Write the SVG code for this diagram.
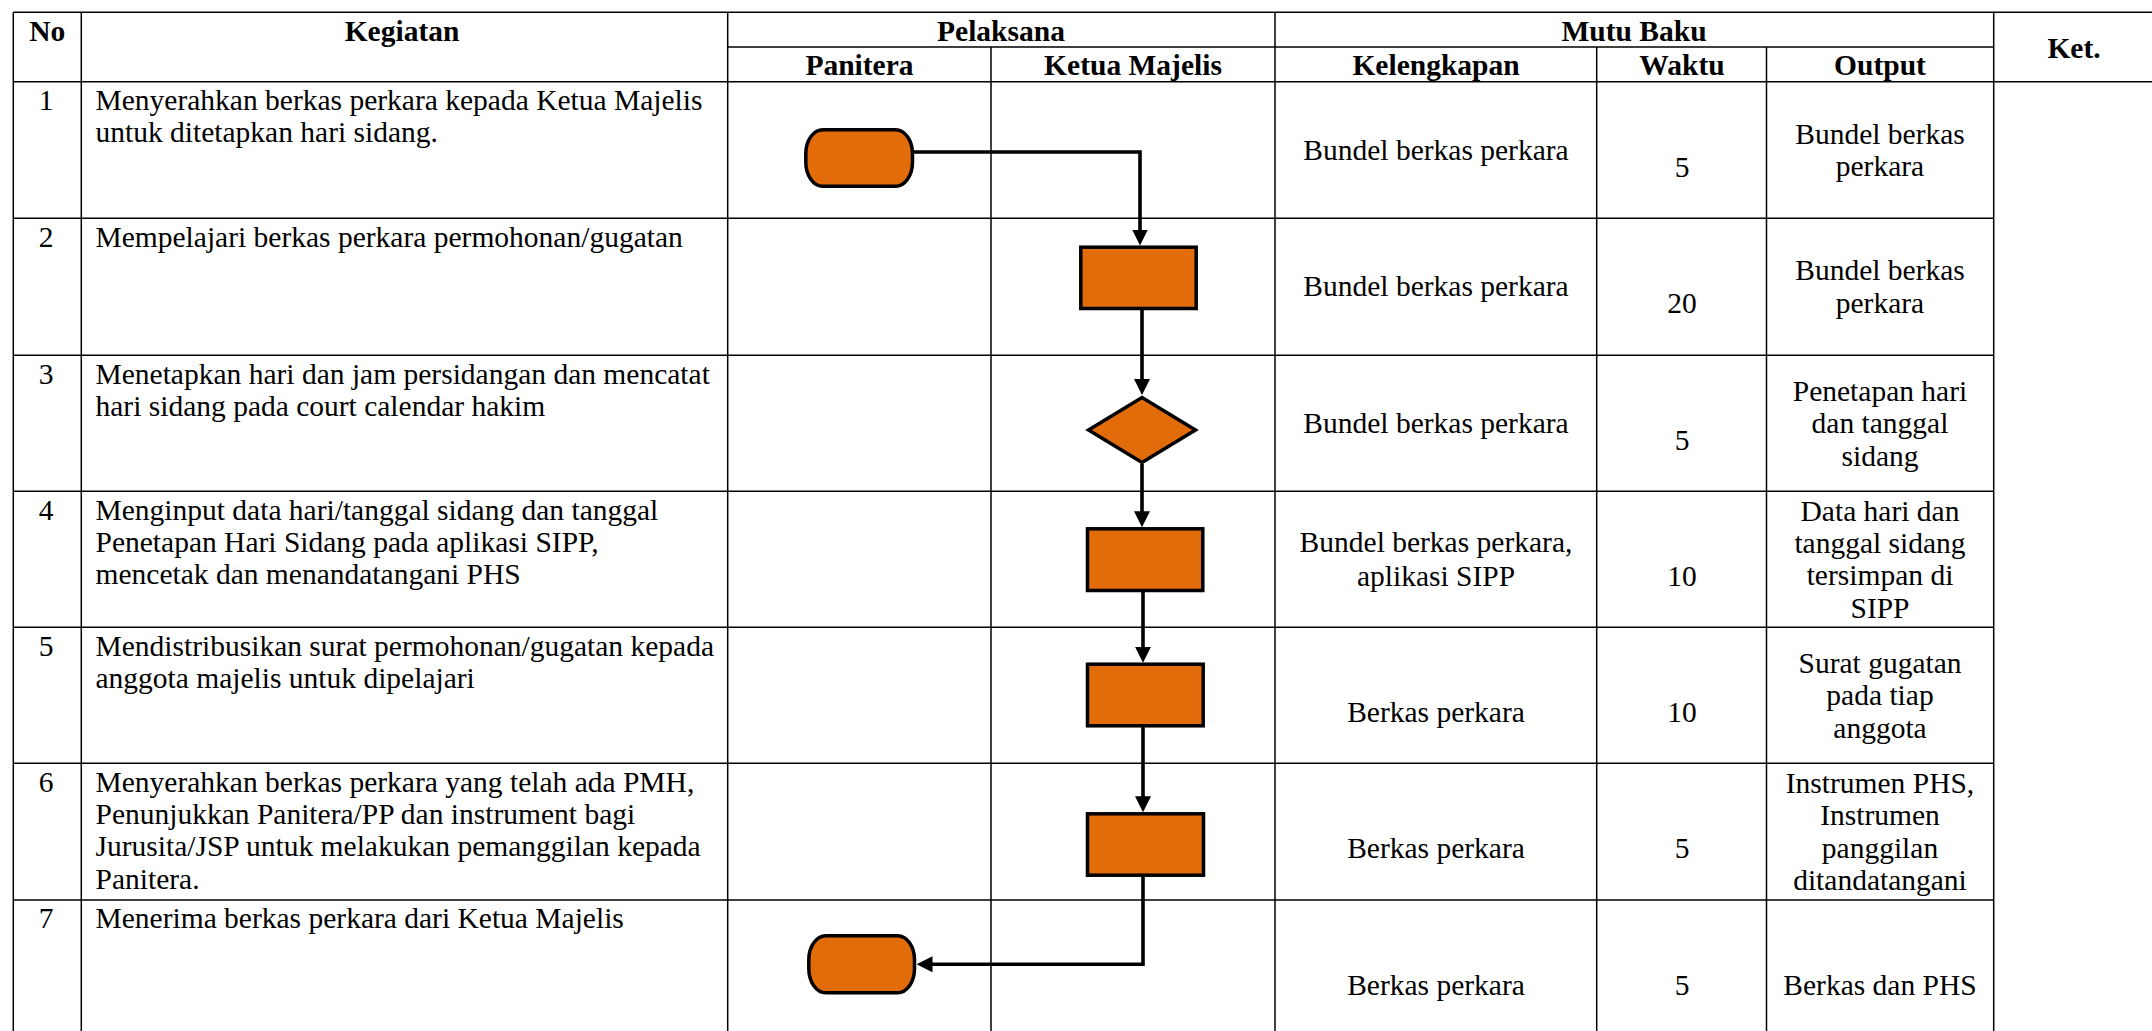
<svg xmlns="http://www.w3.org/2000/svg" width="2152" height="1031" viewBox="0 0 2152 1031">
<style>
.grid line{stroke:#000;stroke-width:1.5}
text{font-family:"Liberation Serif","Times New Roman",serif;font-size:29.5px;fill:#000}
.hb{font-weight:bold;text-anchor:middle}
.c{text-anchor:middle}
.shape{fill:#E36C0A;stroke:#000;stroke-width:3.5}
.conn{fill:none;stroke:#000;stroke-width:3.6}
</style>
<defs>
<marker id="arr" viewBox="0 0 16 16" refX="10" refY="8" markerWidth="16" markerHeight="16" markerUnits="userSpaceOnUse" orient="auto">
<path d="M0,0 L16,8 L0,16 z" fill="#000"/>
</marker>
</defs>
<rect width="2152" height="1031" fill="#fff"/>
<g id="table" class="grid">
<line x1="13.3" y1="12.3" x2="2152" y2="12.3"/>
<line x1="727.7" y1="47" x2="1993.7" y2="47"/>
<line x1="13.3" y1="81.7" x2="2152" y2="81.7"/>
<line x1="13.3" y1="218.3" x2="1993.7" y2="218.3"/>
<line x1="13.3" y1="355.3" x2="1993.7" y2="355.3"/>
<line x1="13.3" y1="491.3" x2="1993.7" y2="491.3"/>
<line x1="13.3" y1="627.3" x2="1993.7" y2="627.3"/>
<line x1="13.3" y1="763.3" x2="1993.7" y2="763.3"/>
<line x1="13.3" y1="900" x2="1993.7" y2="900"/>
<line x1="13.3" y1="12.3" x2="13.3" y2="1031"/>
<line x1="81.3" y1="12.3" x2="81.3" y2="1031"/>
<line x1="727.7" y1="12.3" x2="727.7" y2="1031"/>
<line x1="991" y1="47" x2="991" y2="1031"/>
<line x1="1275" y1="12.3" x2="1275" y2="1031"/>
<line x1="1596.7" y1="47" x2="1596.7" y2="1031"/>
<line x1="1766.5" y1="47" x2="1766.5" y2="1031"/>
<line x1="1993.7" y1="12.3" x2="1993.7" y2="1031"/>
</g>
<g id="header">
<text class="hb" x="47.3" y="41">No</text>
<text class="hb" x="402" y="41">Kegiatan</text>
<text class="hb" x="1001" y="41">Pelaksana</text>
<text class="hb" x="1634" y="41">Mutu Baku</text>
<text class="hb" x="2074" y="58">Ket.</text>
<text class="hb" x="859.5" y="75">Panitera</text>
<text class="hb" x="1133" y="75">Ketua Majelis</text>
<text class="hb" x="1436" y="75">Kelengkapan</text>
<text class="hb" x="1682" y="75">Waktu</text>
<text class="hb" x="1880" y="75">Output</text>
</g>
<g id="row1">
<text class="c" x="46" y="110">1</text>
<text x="95.5" y="110">Menyerahkan berkas perkara kepada Ketua Majelis</text>
<text x="95.5" y="142.4">untuk ditetapkan hari sidang.</text>
<text class="c" x="1436" y="160">Bundel berkas perkara</text>
<text class="c" x="1682" y="176.7">5</text>
<text class="c" x="1880" y="143.7">Bundel berkas</text>
<text class="c" x="1880" y="176.1">perkara</text>
</g>
<g id="row2">
<text class="c" x="46" y="246.6">2</text>
<text x="95.5" y="246.6">Mempelajari berkas perkara permohonan/gugatan</text>
<text class="c" x="1436" y="296.3">Bundel berkas perkara</text>
<text class="c" x="1682" y="313.3">20</text>
<text class="c" x="1880" y="280.4">Bundel berkas</text>
<text class="c" x="1880" y="312.8">perkara</text>
</g>
<g id="row3">
<text class="c" x="46" y="383.6">3</text>
<text x="95.5" y="383.6">Menetapkan hari dan jam persidangan dan mencatat</text>
<text x="95.5" y="416">hari sidang pada court calendar hakim</text>
<text class="c" x="1436" y="433.3">Bundel berkas perkara</text>
<text class="c" x="1682" y="450.3">5</text>
<text class="c" x="1880" y="400.8">Penetapan hari</text>
<text class="c" x="1880" y="433.2">dan tanggal</text>
<text class="c" x="1880" y="465.6">sidang</text>
</g>
<g id="row4">
<text class="c" x="46" y="519.6">4</text>
<text x="95.5" y="519.6">Menginput data hari/tanggal sidang dan tanggal</text>
<text x="95.5" y="552">Penetapan Hari Sidang pada aplikasi SIPP,</text>
<text x="95.5" y="584.4">mencetak dan menandatangani PHS</text>
<text class="c" x="1436" y="552.3">Bundel berkas perkara,</text>
<text class="c" x="1436" y="585.5">aplikasi SIPP</text>
<text class="c" x="1682" y="586">10</text>
<text class="c" x="1880" y="520.6">Data hari dan</text>
<text class="c" x="1880" y="553">tanggal sidang</text>
<text class="c" x="1880" y="585.4">tersimpan di</text>
<text class="c" x="1880" y="617.8">SIPP</text>
</g>
<g id="row5">
<text class="c" x="46" y="655.6">5</text>
<text x="95.5" y="655.6">Mendistribusikan surat permohonan/gugatan kepada</text>
<text x="95.5" y="688">anggota majelis untuk dipelajari</text>
<text class="c" x="1436" y="721.8">Berkas perkara</text>
<text class="c" x="1682" y="721.8">10</text>
<text class="c" x="1880" y="672.8">Surat gugatan</text>
<text class="c" x="1880" y="705.2">pada tiap</text>
<text class="c" x="1880" y="737.6">anggota</text>
</g>
<g id="row6">
<text class="c" x="46" y="791.6">6</text>
<text x="95.5" y="791.6">Menyerahkan berkas perkara yang telah ada PMH,</text>
<text x="95.5" y="824">Penunjukkan Panitera/PP dan instrument bagi</text>
<text x="95.5" y="856.4">Jurusita/JSP untuk melakukan pemanggilan kepada</text>
<text x="95.5" y="888.8">Panitera.</text>
<text class="c" x="1436" y="858.3">Berkas perkara</text>
<text class="c" x="1682" y="858.3">5</text>
<text class="c" x="1880" y="792.9">Instrumen PHS,</text>
<text class="c" x="1880" y="825.3">Instrumen</text>
<text class="c" x="1880" y="857.7">panggilan</text>
<text class="c" x="1880" y="890.1">ditandatangani</text>
</g>
<g id="row7">
<text class="c" x="46" y="928.3">7</text>
<text x="95.5" y="928.3">Menerima berkas perkara dari Ketua Majelis</text>
<text class="c" x="1436" y="994.5">Berkas perkara</text>
<text class="c" x="1682" y="994.5">5</text>
<text class="c" x="1880" y="994.5">Berkas dan PHS</text>
</g>
<g id="connectors">
<path class="conn" d="M912 152 H1140 V239.5" marker-end="url(#arr)"/>
<path class="conn" d="M1142 310 V389" marker-end="url(#arr)"/>
<path class="conn" d="M1142 464 V521.3" marker-end="url(#arr)"/>
<path class="conn" d="M1143 591 V656.7" marker-end="url(#arr)"/>
<path class="conn" d="M1143 726 V806.3" marker-end="url(#arr)"/>
<path class="conn" d="M1143 875.5 V964.3 H922.5" marker-end="url(#arr)"/>
</g>
<g id="n1"><rect class="shape" x="805.8" y="129.8" width="106.7" height="56.4" rx="17" ry="24"/></g>
<g id="n2"><rect class="shape" x="1080.8" y="247.2" width="115.4" height="61.3"/></g>
<g id="n3"><polygon class="shape" points="1142,397.5 1195.5,430 1142,462.5 1088.5,430"/></g>
<g id="n4"><rect class="shape" x="1087.5" y="528.8" width="115.3" height="61.7"/></g>
<g id="n5"><rect class="shape" x="1087.5" y="664.2" width="115.7" height="61.6"/></g>
<g id="n6"><rect class="shape" x="1087.5" y="813.8" width="116" height="61.4"/></g>
<g id="n7"><rect class="shape" x="808.8" y="935.8" width="105.7" height="57" rx="17" ry="24"/></g>
</svg>
